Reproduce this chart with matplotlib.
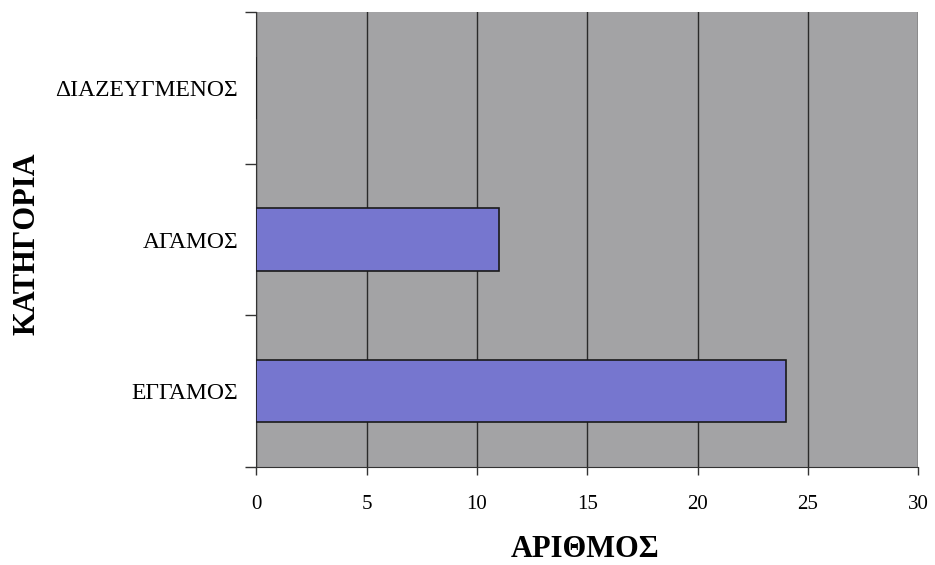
import matplotlib
matplotlib.use("Agg")
import matplotlib.pyplot as plt

# data
categories = ["ΕΓΓΑΜΟΣ", "ΑΓΑΜΟΣ", "ΔΙΑΖΕΥΓΜΕΝΟΣ"]
counts = [24, 11, 0]
x_ticks = [0, 5, 10, 15, 20, 25, 30]

plt.rcParams["font.family"] = ["Liberation Serif", "DejaVu Serif"]

fig = plt.figure(figsize=(9.35, 5.65), dpi=100)
ax = fig.add_axes([0.274, 0.173, 0.708, 0.806])
ax.set_facecolor("#a3a3a5")

ypos = list(range(len(categories)))
ax.barh(ypos, counts, height=0.41, color="#7676cf", edgecolor="#1a1a1a",
        linewidth=1.2, zorder=3)

ax.set_xlim(0, 30)
ax.set_ylim(-0.5, len(categories) - 0.5)
ax.set_xticks(x_ticks)
ax.set_xticklabels([str(t) for t in x_ticks], fontsize=15)
ax.set_yticks(ypos)
ax.set_yticklabels(categories, fontsize=17)
ax.tick_params(axis="y", length=0, pad=13)
ax.set_yticks([-0.5, 0.5, 1.5, 2.5], minor=True)
ax.tick_params(axis="y", which="minor", length=8, width=1, color="#333333")
ax.tick_params(axis="x", length=6, width=1, color="#333333", pad=14)

ax.grid(axis="x", color="#2a2a2a", linewidth=1, zorder=1)
ax.set_axisbelow(True)
for side in ("top", "right"):
    ax.spines[side].set_visible(False)
ax.spines["left"].set_color("#333333")
ax.spines["bottom"].set_color("#333333")

ax.set_xlabel("ΑΡΙΘΜΟΣ", fontsize=22, fontweight="bold", va="center")
ax.xaxis.set_label_coords(0.497, -0.18)
ax.set_ylabel("ΚΑΤΗΓΟΡΙΑ", fontsize=22, fontweight="bold")
ax.yaxis.set_label_coords(-0.325, 0.49)

fig.savefig("out.png", dpi=100, facecolor="white")
